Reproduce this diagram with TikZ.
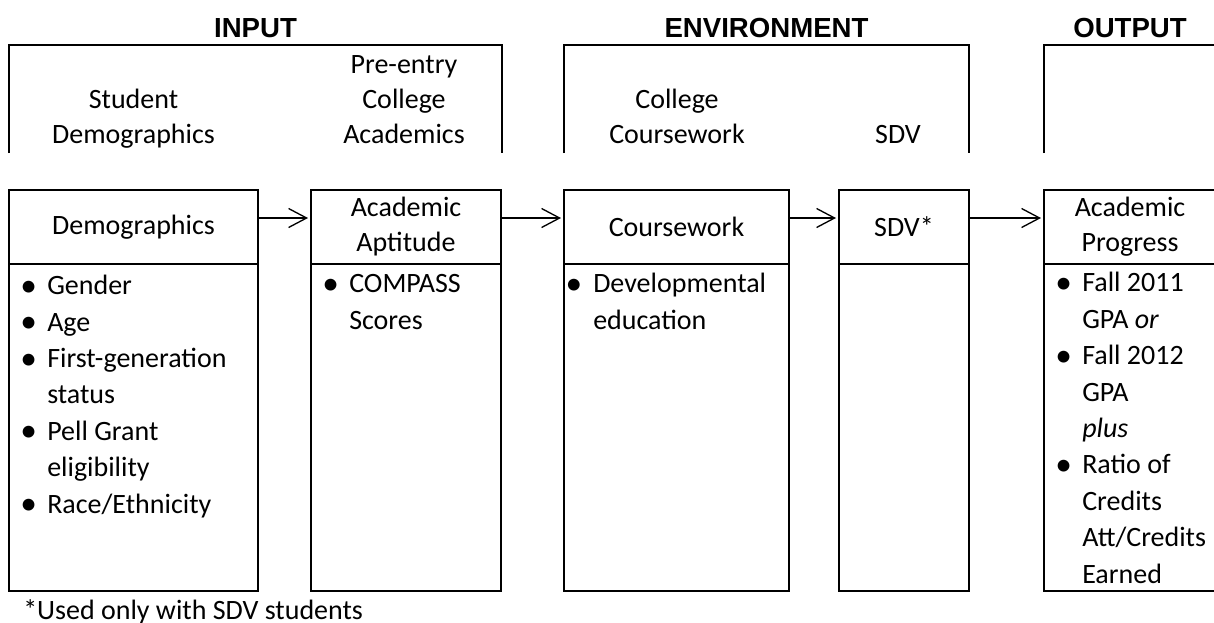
\documentclass[tikz,border=0pt]{standalone}
\usepackage{fontspec}
\setmainfont{Carlito}
\newfontfamily\headfont{Liberation Sans}
\usetikzlibrary{arrows.meta}

\newcommand{\pxu}{0.75pt}
\newcommand{\bodysize}{\fontsize{21pt}{27.3pt}\selectfont}
\newcommand{\labsize}{\fontsize{21pt}{26.25pt}\selectfont}
% bulleted line and its run-on line
\newcommand{\blob}{\raisebox{-1.2pt}{\fontsize{25pt}{0pt}\selectfont\textbullet}}
\newcommand{\bit}[1]{\makebox[28.5pt][l]{\hspace{8.25pt}\blob}#1}
\newcommand{\bnx}[1]{\makebox[28.5pt]{}#1}

\tikzset{
  frame/.style={line width=1.5pt},
  head/.style={draw, line width=1.5pt, outer sep=0pt, inner sep=0pt, minimum height=74*\pxu, align=center, font=\labsize},
  body/.style={draw, line width=1.5pt, outer sep=0pt, inner sep=0pt, minimum height=327*\pxu, anchor=north},
  % multi-line text: base is the baseline of the last line
  items/.style={anchor=base west, inner sep=0pt, align=left, font=\bodysize},
  toplab/.style={anchor=base, inner sep=0pt, align=center, font=\labsize},
  title/.style={anchor=base, inner sep=0pt, font=\headfont\bfseries\fontsize{20.7pt}{24pt}\selectfont},
  flow/.style={-{Straight Barb[length=13.5pt,width=14.25pt]}, line width=1pt, shorten >=2.25pt},
}

\begin{document}
\begin{tikzpicture}[x=0.75pt,y=0.75pt,yscale=-1,xscale=1]
\useasboundingbox (0,0) rectangle (1214,622);
\clip (0,0) rectangle (1214,622);

% group titles
\node[title] (input) at (255.5,37) {INPUT};
\node[title] (envir) at (766.5,37) {ENVIRONMENT};
\node[title] (output) at (1130,37) {OUTPUT};

% open frames under the titles
\draw[frame] (9,153) |- (502,45) -- (502,153);
\draw[frame] (564,153) |- (969,45) -- (969,153);
\draw[frame] (1044,153) |- (1216,45) -- (1216,153);

\node[toplab] (studemo) at (133.5,143) {Student\\Demographics};
\node[toplab] (preentry) at (404,143) {Pre-entry\\College\\Academics};
\node[toplab] (collcourse) at (677,143) {College\\Coursework};
\node[toplab] (sdvtop) at (898,143) {SDV};

% boxes: heading on top, list below
\node[head, minimum width=249*\pxu] (demo) at (133.5,227) {Demographics};
\node[body, minimum width=249*\pxu] (demolist) at (demo.south) {};
\node[head, minimum width=190*\pxu] (apt) at (406,227) {Academic\\Aptitude};
\node[body, minimum width=190*\pxu] (aptlist) at (apt.south) {};
\node[head, minimum width=225*\pxu] (course) at (676.5,227) {Coursework};
\node[body, minimum width=225*\pxu] (courselist) at (course.south) {};
\node[head, minimum width=130*\pxu] (sdv) at (904,227) {SDV*};
\node[body, minimum width=130*\pxu] (sdvlist) at (sdv.south) {};
\node[head, minimum width=172*\pxu] (prog) at (1130,227) {Academic\\Progress};
\node[body, minimum width=172*\pxu] (proglist) at (prog.south) {};

\node[items] (demoitems) at (9,513) {\bit{Gender}\\\bit{Age}\\\bit{First-generation}\\\bnx{status}\\\bit{Pell Grant}\\\bnx{eligibility}\\\bit{Race/Ethnicity}};
\node[items] (aptitems) at (311,329) {\bit{COMPASS}\\\bnx{Scores}};
\node[items] (courseitems) at (564,329) {\makebox[21.75pt][l]{\hspace{1pt}\blob}Developmental\\\makebox[21.75pt]{}education};
\node[items] (progitems) at (1044,583) {\bit{Fall 2011}\\\bnx{GPA \emph{or}}\\\bit{Fall 2012}\\\bnx{GPA}\\\bnx{\emph{plus}}\\\bit{Ratio of}\\\bnx{Credits}\\\bnx{Att/Credits}\\\bnx{Earned}};

% flow between the boxes
\draw[flow] ([yshift=-6.75pt]demo.east) -- ([yshift=-6.75pt]apt.west);
\draw[flow] ([yshift=-6.75pt]apt.east) -- ([yshift=-6.75pt]course.west);
\draw[flow] ([yshift=-6.75pt]course.east) -- ([yshift=-6.75pt]sdv.west);
\draw[flow] ([yshift=-6.75pt]sdv.east) -- ([yshift=-6.75pt]prog.west);

\node[anchor=base west, inner sep=0pt, font=\bodysize] (note) at (23,619) {*Used only with SDV students};
\end{tikzpicture}
\end{document}
